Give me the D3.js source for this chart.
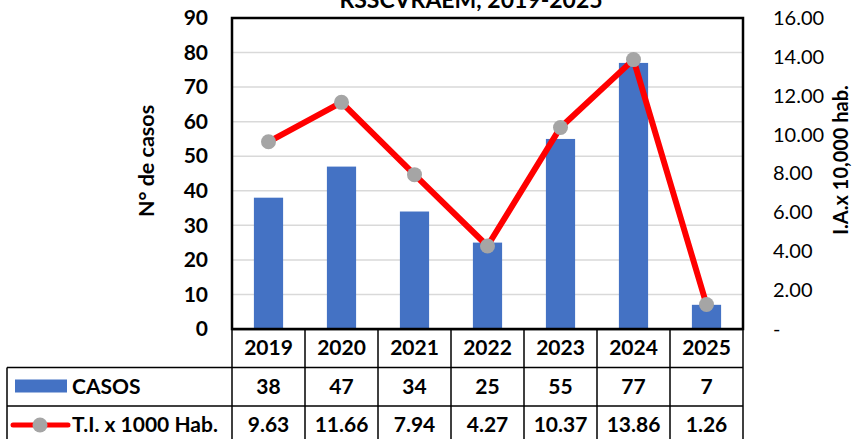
<!DOCTYPE html>
<html>
<head>
<meta charset="utf-8">
<script src="https://cdn.jsdelivr.net/npm/d3@7"></script>
<style>
body { margin: 0; background: #fff; }
text { font-family: Lato, "Open Sans", sans-serif; }
</style>
</head>
<body>
<script>
var years = ["2019", "2020", "2021", "2022", "2023", "2024", "2025"];
var casos = [38, 47, 34, 25, 55, 77, 7];
var tasa = [9.63, 11.66, 7.94, 4.27, 10.37, 13.86, 1.26];
var leftTicks = [0, 10, 20, 30, 40, 50, 60, 70, 80, 90];
var rightTicks = [0, 2, 4, 6, 8, 10, 12, 14, 16];

var w = 855, h = 439;
var plotL = 232, plotR = 743, plotT = 18, plotB = 329;
var rowH = 38.5;

var svg = d3.select("body").append("svg")
    .attr("width", w)
    .attr("height", h);

var x = d3.scaleBand().domain(years).range([plotL, plotR]).paddingInner(0.6).paddingOuter(0.3);
var xCell = d3.scaleBand().domain(years).range([plotL, plotR]);
var y = d3.scaleLinear().domain([0, 90]).range([plotB, plotT]);
var y2 = d3.scaleLinear().domain([0, 16]).range([plotB, plotT]);

function cx(i) { return xCell(years[i]) + xCell.bandwidth() / 2; }

// title (cut at top like the original)
svg.append("text")
    .attr("x", 471).attr("y", 8)
    .attr("text-anchor", "middle")
    .attr("font-size", "23px").attr("font-weight", "bold")
    .text("RSSCVRAEM, 2019-2025");

// gridlines
svg.append("g").selectAll("line")
    .data(leftTicks.slice(1, -1))
    .enter().append("line")
    .attr("x1", plotL).attr("x2", plotR)
    .attr("y1", function(d) { return y(d); })
    .attr("y2", function(d) { return y(d); })
    .attr("stroke", "#d9d9d9").attr("stroke-width", 1.5);

// bars
svg.append("g").selectAll("rect")
    .data(casos)
    .enter().append("rect")
    .attr("x", function(d, i) { return x(years[i]); })
    .attr("y", function(d) { return y(d); })
    .attr("width", x.bandwidth())
    .attr("height", function(d) { return plotB - y(d); })
    .attr("fill", "#4472C4");

// line
var line = d3.line()
    .x(function(d, i) { return cx(i); })
    .y(function(d) { return y2(d); });

svg.append("path")
    .datum(tasa)
    .attr("d", line)
    .attr("fill", "none")
    .attr("stroke", "#ff0000")
    .attr("stroke-width", 6)
    .attr("stroke-linejoin", "round");

svg.append("g").selectAll("circle")
    .data(tasa)
    .enter().append("circle")
    .attr("cx", function(d, i) { return cx(i); })
    .attr("cy", function(d) { return y2(d); })
    .attr("r", 7.5)
    .attr("fill", "#a5a5a5");

// plot frame
svg.append("rect")
    .attr("x", plotL).attr("y", plotT)
    .attr("width", plotR - plotL).attr("height", plotB - plotT)
    .attr("fill", "none").attr("stroke", "#000").attr("stroke-width", 2.5);

// left axis
var yAxis = d3.axisLeft(y).tickValues(leftTicks).tickSize(0).tickPadding(24);
var gy = svg.append("g")
    .attr("transform", "translate(" + plotL + ",0)")
    .call(yAxis);
gy.select(".domain").remove();
gy.selectAll("text")
    .attr("font-family", "Lato, sans-serif")
    .attr("font-size", "21px").attr("font-weight", "bold").attr("fill", "#000");

// right axis
var y2Axis = d3.axisRight(y2).tickValues(rightTicks).tickSize(0).tickPadding(30)
    .tickFormat(function(d) { return d === 0 ? "-" : d3.format(".2f")(d); });
var gy2 = svg.append("g")
    .attr("transform", "translate(" + plotR + ",0)")
    .call(y2Axis);
gy2.select(".domain").remove();
gy2.selectAll("text")
    .attr("font-family", "Lato, sans-serif")
    .attr("font-size", "20px").attr("fill", "#000");

// axis titles
svg.append("text")
    .attr("transform", "translate(154,161) rotate(-90)")
    .attr("text-anchor", "middle")
    .attr("font-size", "21.5px").attr("font-weight", "bold")
    .text("N° de casos");

svg.append("text")
    .attr("transform", "translate(848,160) rotate(-90)")
    .attr("text-anchor", "middle")
    .attr("font-size", "20px").attr("font-weight", "bold")
    .text("I.A.x 10,000 hab.");

// data table
var table = svg.append("g");
var tableL = 7;
var rows = [
    { name: "CASOS", vals: casos.map(String) },
    { name: "T.I. x 1000 Hab.", vals: tasa.map(function(d) { return d3.format(".2f")(d); }) }
];

// header row of years
table.selectAll(".yr")
    .data(years)
    .enter().append("text")
    .attr("x", function(d, i) { return cx(i); })
    .attr("y", plotB + rowH / 2 + 7)
    .attr("text-anchor", "middle")
    .attr("font-size", "21px").attr("font-weight", "bold")
    .text(function(d) { return d; });

rows.forEach(function(r, ri) {
    var ry = plotB + rowH * (ri + 1);
    table.selectAll(".v" + ri)
        .data(r.vals)
        .enter().append("text")
        .attr("x", function(d, i) { return cx(i); })
        .attr("y", ry + rowH / 2 + 7)
        .attr("text-anchor", "middle")
        .attr("font-size", "21px").attr("font-weight", "bold")
        .text(function(d) { return d; });
    table.append("text")
        .attr("x", 72).attr("y", ry + rowH / 2 + 7)
        .attr("font-size", "21px").attr("font-weight", "bold")
        .text(r.name);
});

// legend keys
table.append("rect")
    .attr("x", 15).attr("y", plotB + rowH + 12)
    .attr("width", 52).attr("height", 13)
    .attr("fill", "#4472C4");
table.append("line")
    .attr("x1", 13).attr("x2", 68)
    .attr("y1", plotB + rowH * 2 + 19).attr("y2", plotB + rowH * 2 + 19)
    .attr("stroke", "#ff0000").attr("stroke-width", 5).attr("stroke-linecap", "round");
table.append("circle")
    .attr("cx", 40).attr("cy", plotB + rowH * 2 + 19)
    .attr("r", 7.5).attr("fill", "#a5a5a5");

// table grid lines
table.append("line")
    .attr("x1", plotL).attr("x2", plotR)
    .attr("y1", plotB + 0.5).attr("y2", plotB + 0.5)
    .attr("stroke", "#000").attr("stroke-width", 1.5);
[1, 2, 3].forEach(function(k) {
    table.append("line")
        .attr("x1", tableL).attr("x2", plotR)
        .attr("y1", plotB + rowH * k).attr("y2", plotB + rowH * k)
        .attr("stroke", "#000").attr("stroke-width", 1.5);
});
var vx = years.map(function(d) { return xCell(d); }).concat([plotR]);
table.selectAll(".vl")
    .data(vx)
    .enter().append("line")
    .attr("x1", function(d) { return d; }).attr("x2", function(d) { return d; })
    .attr("y1", plotB).attr("y2", h)
    .attr("stroke", "#000").attr("stroke-width", 1.5);
table.append("line")
    .attr("x1", tableL).attr("x2", tableL)
    .attr("y1", plotB + rowH).attr("y2", h)
    .attr("stroke", "#000").attr("stroke-width", 1.5);
</script>
</body>
</html>
